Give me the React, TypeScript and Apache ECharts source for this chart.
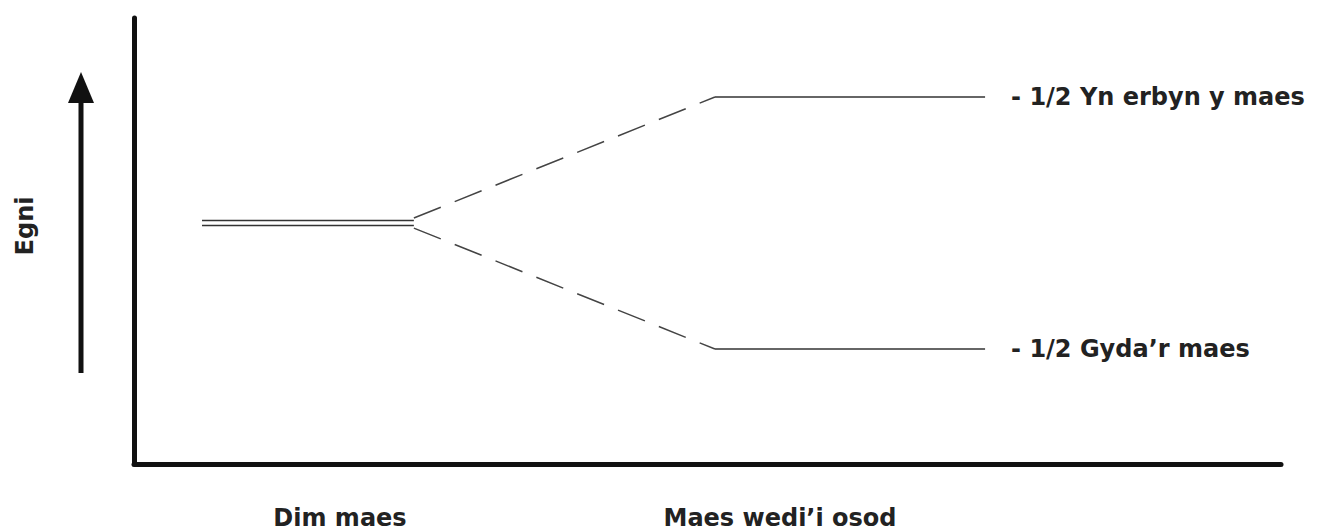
import React, { useEffect, useRef } from "react";
import * as echarts from "echarts";

// Field stages along the horizontal axis (percent of axis length)
const stageX = {
  noFieldStart: 5.93,
  noFieldEnd: 24.4,
  fieldStart: 50.65,
  fieldEnd: 74.2,
};

// Energy values (arbitrary units)
const degenerateOffset = 0.01;
const splitStartOffset = 0.02;
const upperEnergy = 0.5;
const lowerEnergy = -0.5;
const yMin = -0.956;
const yMax = 0.8135;

const levelLabels = ["- 1/2 Yn erbyn y maes", "- 1/2 Gyda\u2019r maes"];
const axisCaptions = ["Dim maes", "Maes wedi\u2019i osod"];
const yCaption = "Egni";

const FONT = "'DejaVu Sans', 'Open Sans', sans-serif";
const FONT_SIZE = 24;
const FONT_WEIGHT = "bold";
const TEXT_COLOR = "#222";

export default function App() {
  const ref = useRef<HTMLDivElement>(null);

  useEffect(() => {
    if (!ref.current) return;
    const chart = echarts.init(ref.current, null, { renderer: "svg" });

    const solid = { color: "#333", width: 1.5, type: "solid" as const };
    const dashed = { color: "#444", width: 1.5, type: [29, 15] as any };

    const lineSeries = (name: string, data: number[][], lineStyle: any, label?: string) => ({
      name,
      type: "line",
      data,
      symbol: "none",
      lineStyle,
      silent: true,
      endLabel: label
        ? {
            show: true,
            formatter: label,
            distance: 26,
            fontFamily: FONT,
            fontWeight: FONT_WEIGHT,
            fontSize: FONT_SIZE,
            color: TEXT_COLOR,
          }
        : { show: false },
    });

    const textStyle = (text: string) => ({
      text,
      fontFamily: FONT,
      fontWeight: FONT_WEIGHT,
      fontSize: FONT_SIZE,
      fill: TEXT_COLOR,
      align: "center",
      verticalAlign: "middle",
    });

    chart.setOption({
      animation: false,
      backgroundColor: "#fff",
      grid: { left: 134, right: 38, top: 18, bottom: 67 },
      xAxis: {
        type: "value",
        min: 0,
        max: 100,
        axisLine: { show: true, onZero: false, lineStyle: { color: "#111", width: 5 } },
        axisTick: { show: false },
        axisLabel: { show: false },
        splitLine: { show: false },
      },
      yAxis: {
        type: "value",
        min: yMin,
        max: yMax,
        axisLine: { show: true, onZero: false, lineStyle: { color: "#111", width: 5 } },
        axisTick: { show: false },
        axisLabel: { show: false },
        splitLine: { show: false },
      },
      series: [
        lineSeries(
          "degenerate-upper",
          [
            [stageX.noFieldStart, degenerateOffset],
            [stageX.noFieldEnd, degenerateOffset],
          ],
          solid
        ),
        lineSeries(
          "degenerate-lower",
          [
            [stageX.noFieldStart, -degenerateOffset],
            [stageX.noFieldEnd, -degenerateOffset],
          ],
          solid
        ),
        lineSeries(
          "split-up",
          [
            [stageX.noFieldEnd, splitStartOffset],
            [stageX.fieldStart, upperEnergy],
          ],
          dashed
        ),
        lineSeries(
          "split-down",
          [
            [stageX.noFieldEnd, -splitStartOffset],
            [stageX.fieldStart, lowerEnergy],
          ],
          dashed
        ),
        lineSeries(
          "upper-level",
          [
            [stageX.fieldStart, upperEnergy],
            [stageX.fieldEnd, upperEnergy],
          ],
          solid,
          levelLabels[0]
        ),
        lineSeries(
          "lower-level",
          [
            [stageX.fieldStart, lowerEnergy],
            [stageX.fieldEnd, lowerEnergy],
          ],
          solid,
          levelLabels[1]
        ),
      ],
      graphic: [
        {
          type: "line",
          shape: { x1: 81, y1: 373, x2: 81, y2: 98 },
          style: { stroke: "#111", lineWidth: 5 },
        },
        {
          type: "polygon",
          shape: { points: [[81, 72], [68, 103], [94, 103]] },
          style: { fill: "#111" },
        },
        {
          type: "text",
          x: 25,
          y: 226,
          rotation: Math.PI / 2,
          style: textStyle(yCaption),
        },
        {
          type: "text",
          x: 340,
          y: 518,
          style: textStyle(axisCaptions[0]),
        },
        {
          type: "text",
          x: 780,
          y: 518,
          style: textStyle(axisCaptions[1]),
        },
      ],
    });

    return () => chart.dispose();
  }, []);

  return (
    <div
      ref={ref}
      style={{ position: "fixed", left: 0, top: 0, width: 1319, height: 531, background: "#fff" }}
    />
  );
}
